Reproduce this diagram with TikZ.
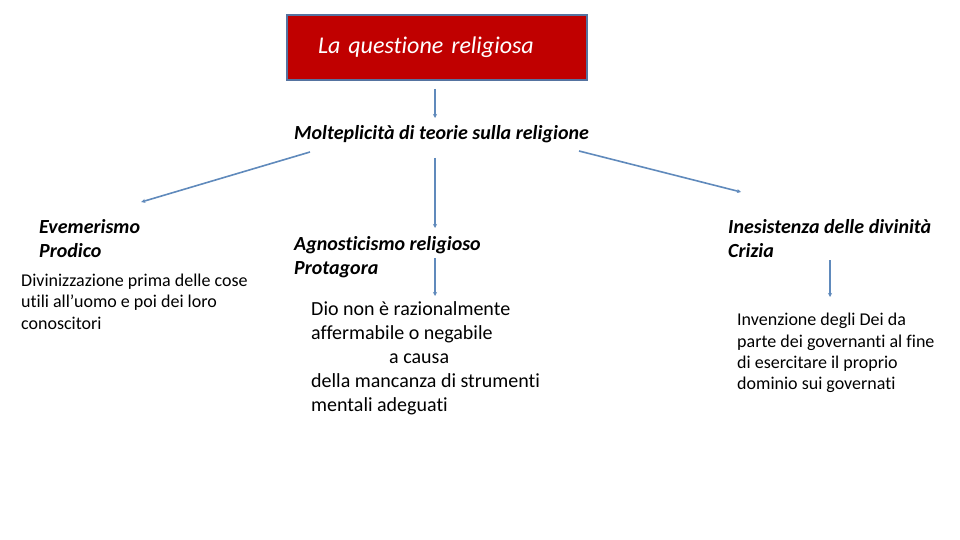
\documentclass[tikz,border=0pt]{standalone}
\usepackage{fontspec}
\setmainfont{Carlito}[Ligatures=NoCommon]
\usetikzlibrary{arrows.meta,calc}
\definecolor{lineblue}{RGB}{96,138,188}
\definecolor{boxred}{RGB}{192,0,0}
\definecolor{boxborder}{RGB}{85,115,160}
\begin{document}
\begin{tikzpicture}[x=1pt,y=-1pt,
 conn/.style={draw=lineblue,line width=1.6pt,-{Stealth[length=4pt,width=4pt]}},
 head/.style={anchor=west,inner sep=0pt,align=left,font=\fontsize{20}{24}\selectfont\bfseries\itshape},
 desc/.style={anchor=west,inner sep=0pt,align=left},
]
\useasboundingbox[fill=white] (0,0) rectangle (960,540);
\node[draw=boxborder,line width=2pt,fill=boxred,text=white,
  font=\fontsize{24}{28}\selectfont\itshape,
  text width=238pt,inner xsep=31pt,inner ysep=0pt,minimum height=65pt,align=left] (title) at (437,47.5) {\raisebox{-2pt}{La questione religiosa}};
\node[head] (molt) at (294,134) {Molteplicità di teorie sulla religione};
\node[head] (evem) at (39,239) {Evemerismo\\Prodico};
\node[desc,font=\fontsize{18}{21.5}\selectfont] (evemdesc) at (21,301.5) {Divinizzazione prima delle cose\\utili all’uomo e poi dei loro\\conoscitori};
\node[head] (agn) at (294,257) {Agnosticismo religioso\\Protagora};
\node[desc,font=\fontsize{20}{24}\selectfont] (agndesc) at (311,358) {Dio non è razionalmente\\affermabile o negabile\\\hspace*{78pt}a causa\\della mancanza di strumenti\\mentali adeguati};
\node[head] (ines) at (728,239) {Inesistenza delle divinità\\Crizia};
\node[desc,font=\fontsize{18}{21.3}\selectfont] (inesdesc) at (737,353) {Invenzione degli Dei da\\parte dei governanti al fine\\di esercitare il proprio\\dominio sui governati};
\coordinate (cx) at (435,0);
\coordinate (cy) at (830,0);
\draw[conn] ($(cx |- title.south)+(0,8)$) -- ($(cx |- molt.west)+(0,-16)$);
\draw[conn] ($(molt.west)+(16,18)$) -- ($(evem.east)+(1,-37)$);
\draw[conn] ($(cx |- molt.west)+(0,24)$) -- ($(cx |- agn.west)+(0,-29)$);
\draw[conn] ($(molt.east)+(-10,17)$) -- ($(ines.west)+(13,-47)$);
\draw[conn] ($(cx |- agn.west)+(0,1)$) -- ($(cx |- agndesc.west)+(0,-62)$);
\draw[conn] ($(cy |- ines.west)+(0,21)$) -- ($(cy |- inesdesc.west)+(0,-56)$);
\end{tikzpicture}
\end{document}
